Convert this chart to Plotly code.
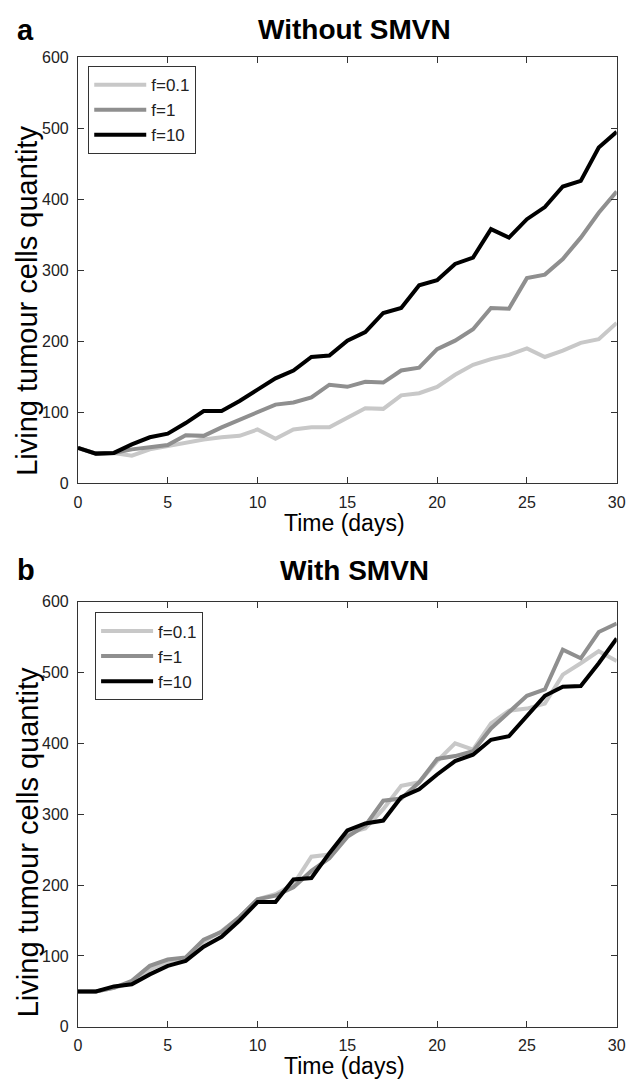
import plotly.graph_objects as go

W, H = 635, 1088

days = list(range(31))

# panel a: without SMVN
a_f01 = [50, 42, 43, 39, 48, 53, 58, 62, 65, 67, 76, 63, 76, 79, 79, 92,
         106, 105, 124, 127, 136, 153, 167, 175, 181, 190, 178, 187, 198, 203, 226]
a_f1 = [50, 42, 43, 48, 51, 54, 68, 67, 79, 90, 101, 111, 114, 121, 139, 136,
        143, 142, 159, 163, 189, 201, 217, 247, 246, 289, 294, 316, 346, 381, 411]
a_f10 = [50, 42, 43, 55, 65, 70, 85, 102, 102, 116, 132, 148, 159, 178, 180, 201,
         213, 240, 247, 279, 286, 309, 318, 358, 346, 372, 389, 418, 426, 473, 495]

# panel b: with SMVN
b_f01 = [50, 50, 55, 62, 81, 92, 97, 120, 135, 155, 180, 187, 201, 240, 243, 273,
         280, 307, 340, 345, 375, 400, 391, 428, 446, 449, 456, 497, 513, 530, 516]
b_f1 = [50, 50, 55, 65, 86, 95, 98, 123, 134, 155, 180, 185, 197, 220, 238, 268,
        284, 319, 322, 345, 378, 382, 389, 421, 444, 467, 476, 532, 520, 557, 569]
b_f10 = [50, 50, 57, 60, 74, 86, 93, 113, 127, 150, 176, 176, 208, 210, 245, 277,
         287, 291, 324, 335, 356, 375, 384, 405, 410, 439, 467, 480, 481, 513, 548]

labels = ['f=0.1', 'f=1', 'f=10']
colors = ['#c8c8c8', '#8f8f8f', '#000000']
xticks = [0, 5, 10, 15, 20, 25, 30]
yticks = [0, 100, 200, 300, 400, 500, 600]

font = 'Liberation Sans, Arial, sans-serif'


def px_x(p):
    return p / W


def px_y(p):
    return 1 - p / H


fig = go.Figure()

for ys, name, c in zip([a_f01, a_f1, a_f10], labels, colors):
    fig.add_trace(go.Scatter(x=days, y=ys, mode='lines', name=name,
                             line=dict(color=c, width=4),
                             xaxis='x', yaxis='y', legend='legend'))
for ys, name, c in zip([b_f01, b_f1, b_f10], labels, colors):
    fig.add_trace(go.Scatter(x=days, y=ys, mode='lines', name=name,
                             line=dict(color=c, width=4),
                             xaxis='x2', yaxis='y2', legend='legend2'))

ax = dict(showline=True, linecolor='#333333', linewidth=1, mirror='ticks',
          ticks='inside', ticklen=6, tickcolor='#333333', showgrid=False,
          zeroline=False, tickfont=dict(family=font, size=16, color='#222222'))

leg = dict(xanchor='left', yanchor='top', bgcolor='white',
           bordercolor='#333333', borderwidth=1, itemwidth=52,
           font=dict(family=font, size=17, color='#222222'))

xdom = [px_x(75.5), px_x(625.5)]
fig.update_layout(
    width=W, height=H,
    margin=dict(l=0, r=0, t=0, b=0),
    paper_bgcolor='white', plot_bgcolor='white',
    font=dict(family=font, color='#111111'),
    xaxis=dict(ax, domain=xdom, range=[0, 30], tickvals=xticks, anchor='y',
               ticklabelstandoff=4),
    yaxis=dict(ax, domain=[px_y(483), px_y(50)], range=[0, 600], tickvals=yticks,
               anchor='x', ticklabelstandoff=5),
    xaxis2=dict(ax, domain=xdom, range=[0, 30], tickvals=xticks, anchor='y2',
                ticklabelstandoff=4),
    yaxis2=dict(ax, domain=[px_y(1035), px_y(603)], range=[0, 600], tickvals=yticks,
                anchor='x2', ticklabelstandoff=5),
    legend=dict(leg, x=px_x(86), y=px_y(59)),
    legend2=dict(leg, x=px_x(93), y=px_y(614)),
)

ann = []
# panel letters and titles
for letter, title, yc in [('a', 'Without SMVN', 22), ('b', 'With SMVN', 571)]:
    ann.append(dict(text='<b>%s</b>' % letter, x=px_x(22), y=px_y(yc),
                    font=dict(size=29, color='black')))
    ann.append(dict(text='<b>%s</b>' % title, x=px_x(358), y=px_y(yc),
                    font=dict(size=28, color='black')))
# axis titles
for yc in [523, 1075]:
    ann.append(dict(text='Time (days)', x=px_x(348), y=px_y(yc),
                    font=dict(size=23, color='black')))
for yc in [298, 848]:
    ann.append(dict(text='Living tumour cells quantity', x=px_x(24), y=px_y(yc),
                    textangle=-90, font=dict(size=29, color='black')))

for a in ann:
    a.update(xref='paper', yref='paper', showarrow=False,
             xanchor='center', yanchor='middle')
fig.update_layout(annotations=ann)

page_css = ("document.body.style.margin='0';"
            "document.body.style.overflow='hidden';"
            "document.documentElement.style.overflow='hidden';")
fig.write_html("out.html", config={'displayModeBar': False}, post_script=page_css)
